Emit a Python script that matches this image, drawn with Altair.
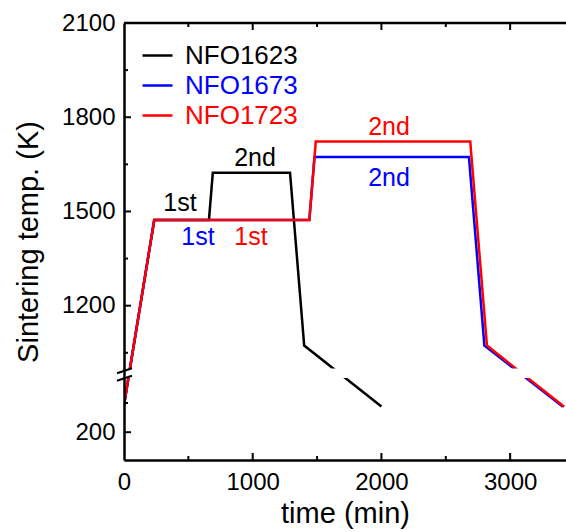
import altair as alt
import pandas as pd

# Sintering schedules: time (min) and temperature (K) at each corner of the profile
time_1623 = [0, 235, 660, 690, 1290, 1400, 2000]
temp_1623 = [293, 1473, 1473, 1623, 1623, 1073, 288]
time_1673 = [0, 235, 1440, 1480, 2680, 2800, 3410]
temp_1673 = [293, 1473, 1473, 1673, 1673, 1073, 287]
time_1723 = [0, 235, 1440, 1490, 2690, 2820, 3420]
temp_1723 = [293, 1473, 1473, 1723, 1723, 1073, 287]

series_names = ["NFO1623", "NFO1673", "NFO1723"]
series_colors = ["#000000", "#0000ff", "#ff0000"]

# Step annotations
label_text = ["1st", "1st", "1st", "2nd", "2nd", "2nd"]
label_series = ["NFO1623", "NFO1673", "NFO1723", "NFO1623", "NFO1673", "NFO1723"]
label_time = [435, 575, 987, 1018, 2059, 2059]
label_temp = [1527, 1419, 1419, 1670, 1607, 1769]

# Tick positions
major_y = [200, 1200, 1500, 1800, 2100]
minor_y = [300, 1050, 1350, 1650, 1950]
major_x = [0, 1000, 2000, 3000]
minor_x = [500, 1500, 2500]

# Broken temperature axis: 105-400 K below the break, 1000-2100 K above it
y_domain = [105, 400, 1000, 2100]
break_lo, break_hi = 385, 1000

W, H = 442, 437
FONT = "Liberation Sans"

rows = []
for name, ts, temps in [("NFO1623", time_1623, temp_1623),
                        ("NFO1673", time_1673, temp_1673),
                        ("NFO1723", time_1723, temp_1723)]:
    for i, (t, k) in enumerate(zip(ts, temps)):
        rows.append({"series": name, "step": i, "time": t, "temp": k})
df = pd.DataFrame(rows)

color_of = dict(zip(series_names, series_colors))
labels_df = pd.DataFrame({
    "text": label_text,
    "time": label_time,
    "temp": label_temp,
    "color": [color_of[s] for s in label_series],
})

x_scale = alt.Scale(domain=[0, 3434], nice=False, zero=False)
y_scale = alt.Scale(domain=y_domain, range=[H, 350.7, 345.5, 0], nice=False, zero=False)
color_scale = alt.Scale(domain=series_names, range=series_colors)

x_axis = alt.Axis(values=major_x, title="time (min)", format="d", ticks=False, grid=False,
                  labelPadding=10, titlePadding=5, labelFlush=False, zindex=1)
y_axis = alt.Axis(values=major_y, title="Sintering temp. (K)", format="d", ticks=False, grid=False,
                  labelPadding=9, titlePadding=18, labelOverlap=False, zindex=1)

X = alt.X("time:Q", scale=x_scale, axis=x_axis, title="time (min)")
Y = alt.Y("temp:Q", scale=y_scale, axis=y_axis, title="Sintering temp. (K)")

label_color_expr = " : ".join(
    f"datum.value === '{n}' ? '{c}'" for n, c in zip(series_names[:-1], series_colors[:-1])
) + f" : '{series_colors[-1]}'"

legend = alt.Legend(title=None, orient="none", legendX=17, legendY=16, padding=0,
                    symbolType="stroke", symbolSize=900, symbolStrokeWidth=2.5,
                    labelFont=FONT, labelFontSize=26, labelOffset=11, rowPadding=-3,
                    labelColor={"expr": label_color_expr})

base = alt.Chart(df)
line_layers = [
    base.transform_filter(alt.datum.series == name)
    .mark_line(strokeWidth=2.5, clip=True)
    .encode(
        x=X, y=Y,
        color=alt.Color("series:N", scale=color_scale, legend=legend),
        order="step:Q",
    )
    for name in series_names
]

texts = alt.Chart(labels_df).mark_text(font=FONT, fontSize=25, baseline="middle", align="center").encode(
    x=X, y=Y,
    text="text:N",
    color=alt.Color("color:N", scale=None),
)

# white band where the curves cross the axis break
gap = alt.Chart(pd.DataFrame({"temp": [break_lo], "temp_hi": [break_hi]})).mark_rect(color="white").encode(
    y=Y,
    y2="temp_hi:Q",
    x=alt.value(2),
    x2=alt.value(W),
)

# inward-pointing ticks on left, bottom and top
def y_ticks(vals, length):
    return alt.Chart(pd.DataFrame({"temp": vals})).mark_rule(color="black", strokeWidth=2).encode(
        y=Y, x=alt.value(0), x2=alt.value(length))

def x_ticks(vals, length, at_top):
    y0 = 0 if at_top else H
    y1 = length if at_top else H - length
    return alt.Chart(pd.DataFrame({"time": vals})).mark_rule(color="black", strokeWidth=2).encode(
        x=X, y=alt.value(y0), y2=alt.value(y1))

top_line = alt.Chart(pd.DataFrame({"v": [0]})).mark_rule(color="black", strokeWidth=2.5).encode(
    y=alt.value(0), x=alt.value(0), x2=alt.value(W))

# axis break symbol "//"
slashes = alt.Chart(pd.DataFrame({"v": [0]})).mark_rule(color="black", strokeWidth=2)
slash_a = slashes.encode(x=alt.value(-7), x2=alt.value(8), y=alt.value(350.3), y2=alt.value(345.3))
slash_b = slashes.encode(x=alt.value(-7), x2=alt.value(8), y=alt.value(357.7), y2=alt.value(352.7))

chart = alt.layer(
    *line_layers, texts, gap,
    y_ticks(major_y, 7), y_ticks(minor_y, 4),
    x_ticks(major_x[1:], 7, False), x_ticks(minor_x, 4, False),
    x_ticks(major_x[1:], 7, True), x_ticks(minor_x, 4, True),
    top_line, slash_a, slash_b,
).properties(
    width=W, height=H,
    autosize=alt.AutoSizeParams(type="none"),
    padding={"left": 124, "top": 23, "right": 0, "bottom": 72},
).configure_view(stroke=None).configure(font=FONT).configure_axis(
    domainColor="black", domainWidth=2.5, labelColor="black", titleColor="black",
    labelFont=FONT, titleFont=FONT, labelFontSize=24, titleFontSize=29, titleFontWeight="normal",
)

chart.save("out.html", embed_options={"renderer": "svg", "actions": False})
